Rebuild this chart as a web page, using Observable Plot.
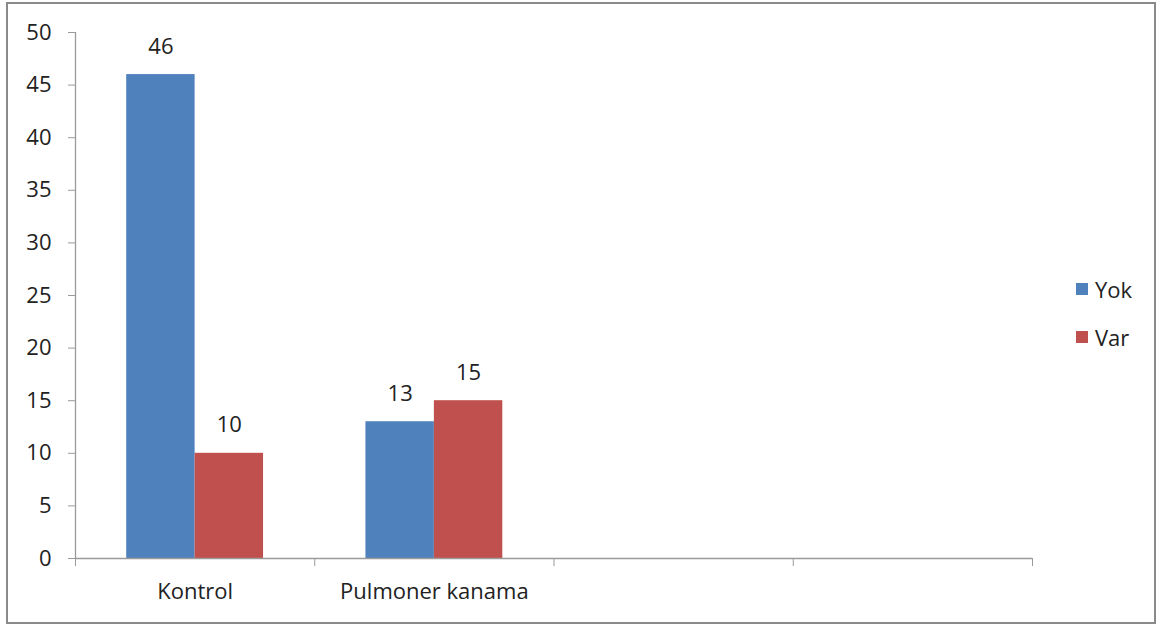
<!DOCTYPE html>
<html>
<head>
<meta charset="utf-8">
<script src="https://cdn.jsdelivr.net/npm/d3@7"></script>
<script src="https://cdn.jsdelivr.net/npm/@observablehq/plot@0.6"></script>
<style>
  html, body { margin: 0; padding: 0; background: #fff; }
  #wrap { position: relative; width: 1161px; height: 625px; font-family: "Open Sans", sans-serif; }
  #border { position: absolute; left: 6px; top: 2px; width: 1146px; height: 618px; border: 2px solid #8a8a8a; pointer-events: none; }
  #legend { position: absolute; left: 1076px; top: 265px; font-size: 22px; color: #222; }
  #legend .item { display: flex; align-items: center; height: 48px; }
  #legend .sw { width: 12px; height: 12px; margin-right: 7px; }
</style>
</head>
<body>
<div id="wrap">
  <div id="chart"></div>
  <div id="legend"></div>
  <div id="border"></div>
</div>
<script>
// Category slots on the x axis (the last two are empty)
const categories = ["Kontrol", "Pulmoner kanama", "", ""];
const seriesNames = ["Yok", "Var"];
const seriesColors = ["#4F81BD", "#C0504D"];
const yokValues = [46, 13];
const varValues = [10, 15];
const yTicks = [0, 5, 10, 15, 20, 25, 30, 35, 40, 45, 50];

const FONT = 22;

// Each category occupies one unit on x; the two bars sit side by side in its middle
const barWidth = 0.286;
const rows = [];
[yokValues, varValues].forEach((vals, s) => {
  vals.forEach((v, i) => {
    const x1 = i + 0.5 - barWidth + s * barWidth;
    rows.push({series: seriesNames[s], category: categories[i], value: v, x1, x2: x1 + barWidth, xc: x1 + barWidth / 2});
  });
});

const chart = Plot.plot({
  width: 1161,
  height: 625,
  marginLeft: 75,
  marginRight: 129,
  marginTop: 32,
  marginBottom: 67,
  style: {fontFamily: "'Open Sans', sans-serif", fontSize: FONT + "px", color: "#222", background: "transparent"},
  x: {type: "linear", domain: [0, categories.length]},
  y: {domain: [0, 50]},
  color: {domain: seriesNames, range: seriesColors},
  marks: [
    Plot.rectY(rows, {x1: "x1", x2: "x2", y: "value", fill: "series"}),
    Plot.text(rows, {x: "xc", y: "value", text: d => String(d.value), dy: -28, lineAnchor: "middle", fill: "#222", fontSize: FONT}),
    Plot.ruleY([0], {stroke: "#9a9a9a", strokeWidth: 1.3}),
    Plot.ruleX([0], {stroke: "#9a9a9a", strokeWidth: 1.3}),
    Plot.axisY({ticks: yTicks, tickSize: 7, tickPadding: 17, stroke: "#9a9a9a", label: null, fill: "#222", fontSize: FONT}),
    Plot.axisX({ticks: d3.range(categories.length + 1), tickSize: 8, tickFormat: () => "", stroke: "#9a9a9a", label: null}),
    Plot.axisX({ticks: categories.map((c, i) => i + 0.5).filter((_, i) => categories[i] !== ""), tickSize: 0, tickPadding: 25, tickFormat: t => categories[Math.floor(t)], label: null, fill: "#222", fontSize: FONT})
  ]
});
document.getElementById("chart").appendChild(chart);

// Legend to the right of the plot
const legend = document.getElementById("legend");
seriesNames.forEach((name, i) => {
  const item = document.createElement("div");
  item.className = "item";
  item.innerHTML = `<span class="sw" style="background:${seriesColors[i]}"></span><span>${name}</span>`;
  legend.appendChild(item);
});
</script>
</body>
</html>
